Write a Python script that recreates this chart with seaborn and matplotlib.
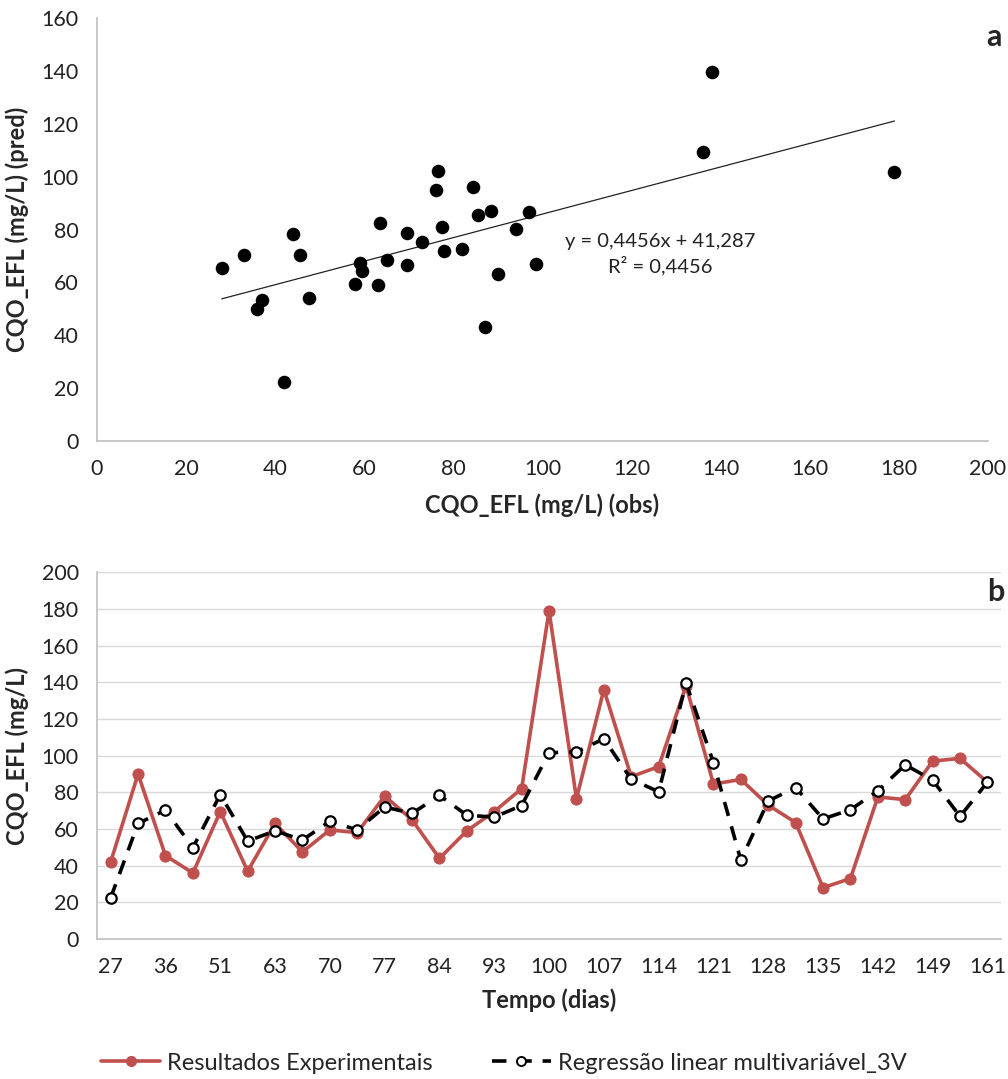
import numpy as np
import pandas as pd
import matplotlib
matplotlib.use("Agg")
import matplotlib.pyplot as plt
from matplotlib.lines import Line2D
import seaborn as sns

sns.set_theme(style="white")
plt.rcParams["font.family"] = ["Lato", "DejaVu Sans"]

# Observed effluent COD (mg/L), one value per sampling event
obs = [42, 90, 45.5, 36, 69.5, 37, 63, 47.5, 59.5, 58, 78, 65, 44, 59, 69.5, 82,
       179, 76.5, 136, 88.5, 94, 138, 84.5, 87, 73, 63.5, 28, 33, 77.5, 76, 97, 98.5, 85.5]
# Predicted effluent COD from the 3-variable multiple linear regression
pred = [22.5, 63, 70.3, 49.8, 78.8, 53.4, 59, 54, 64.2, 59.5, 72, 68.5, 78.3, 67.5, 66.5, 72.8,
        101.6, 102, 109.2, 87.1, 80.3, 139.5, 96.2, 43, 75.3, 82.6, 65.5, 70.5, 80.8, 95, 86.6, 66.9, 85.5]
# Day labels shown on the time axis (every other sampling event)
day_labels = ["27", "36", "51", "63", "70", "77", "84", "93", "100", "107",
              "114", "121", "128", "135", "142", "149", "161"]
# Trend line coefficients
slope, intercept, r2 = 0.4456, 41.287, 0.4456

df = pd.DataFrame({"obs": obs, "pred": pred, "idx": np.arange(len(obs))})

fig = plt.figure(figsize=(10.08, 10.79), dpi=100)
spine_c = "#bfbfbf"
tick_fs = 15.5
lab_fs = 17

# ---------- (a) observed vs predicted ----------
ax1 = fig.add_axes([0.0962, 0.5913, 0.884, 0.392])
sns.scatterplot(data=df, x="obs", y="pred", ax=ax1, color="black", s=95,
                edgecolor="black", linewidth=0, zorder=3)
xs = np.array([min(obs), max(obs)])
ax1.plot(xs, slope * xs + intercept, color="#222222", lw=0.9, zorder=2)
ax1.set_xlim(0, 200)
ax1.set_ylim(0, 160)
ax1.set_xticks(np.arange(0, 201, 20))
ax1.set_yticks(np.arange(0, 161, 20))
ax1.set_xlabel("CQO_EFL (mg/L) (obs)", fontsize=lab_fs, fontweight="bold", labelpad=10)
ax1.set_ylabel("CQO_EFL (mg/L) (pred)", fontsize=lab_fs, fontweight="bold", labelpad=9)
ax1.text(126.5, 70.5, f"y = {slope:.4f}x + {intercept:.3f}\nR² = {r2:.4f}".replace(".", ","),
         ha="center", va="center", fontsize=14.5, linespacing=1.35, color="#222222")
ax1.text(0.998, 0.955, "a", transform=ax1.transAxes, fontsize=22,
         fontweight="bold", ha="left", va="center")

# ---------- (b) time series ----------
ax2 = fig.add_axes([0.0962, 0.1297, 0.897, 0.340])
ax2.yaxis.grid(True, color="#d9d9d9", lw=1)
ax2.set_axisbelow(True)
sns.lineplot(data=df, x="idx", y="obs", ax=ax2, color="#c0504d", lw=2.6,
             marker="o", markersize=8, markeredgecolor="#c0504d", zorder=3)
sns.lineplot(data=df, x="idx", y="pred", ax=ax2, color="black", lw=2.6,
             marker="o", markersize=7.5, markerfacecolor="white",
             markeredgecolor="black", markeredgewidth=1.6, zorder=4)
ax2.lines[-1].set_dashes([4, 3])
ax2.set_xlim(-0.5, len(obs) - 0.5)
ax2.set_ylim(0, 200)
ax2.set_yticks(np.arange(0, 201, 20))
ax2.set_xticks(np.arange(0, len(obs), 2))
ax2.set_xticklabels(day_labels)
ax2.set_xlabel("Tempo (dias)", fontsize=lab_fs, fontweight="bold", labelpad=8)
ax2.set_ylabel("CQO_EFL (mg/L)", fontsize=lab_fs, fontweight="bold", labelpad=9)
ax2.text(0.985, 0.945, "b", transform=ax2.transAxes, fontsize=22,
         fontweight="bold", ha="left", va="center")

for ax in (ax1, ax2):
    sns.despine(ax=ax)
    for s in ("left", "bottom"):
        ax.spines[s].set_color(spine_c)
        ax.spines[s].set_linewidth(1.2)
    ax.tick_params(axis="both", length=0, labelsize=tick_fs, colors="#222222", pad=13)

handles = [
    Line2D([], [], color="#c0504d", lw=2.6, marker="o", markersize=7),
    Line2D([], [], color="black", lw=2.6, dashes=[4, 3], marker="o", markersize=6.5,
           markerfacecolor="white", markeredgecolor="black", markeredgewidth=1.4),
]
fig.legend(handles, ["Resultados Experimentais", "Regressão linear multivariável_3V"],
           loc="center", bbox_to_anchor=(0.5, 1 - 1063 / 1079), ncol=2, frameon=False,
           fontsize=lab_fs, handlelength=2.5, columnspacing=2.5, handletextpad=0.3)

fig.savefig("out.png", dpi=100, facecolor="white")
